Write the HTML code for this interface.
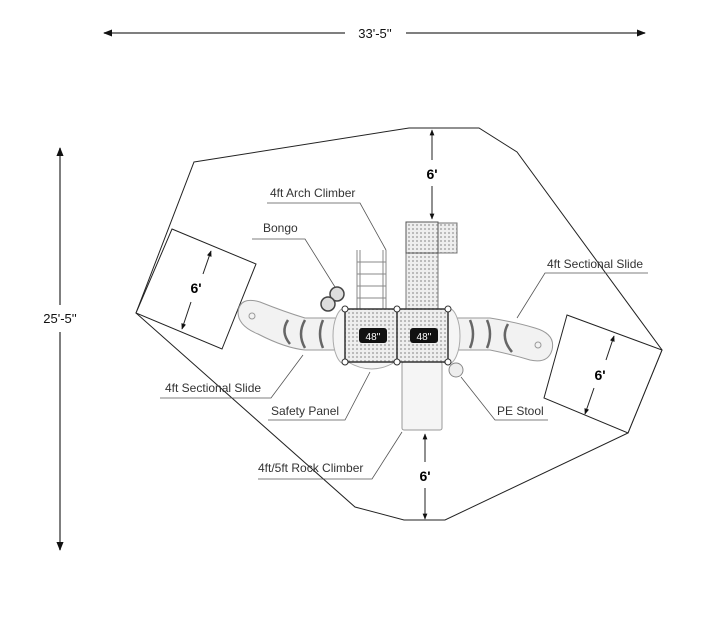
<!DOCTYPE html>
<html><head><style>
html,body{margin:0;padding:0;background:#fff;}
svg{display:block;font-family:"Liberation Sans",sans-serif;}
</style></head><body>
<svg width="723" height="641" viewBox="0 0 723 641" xmlns="http://www.w3.org/2000/svg">
<defs>
<marker id="a" viewBox="0 0 10 10" refX="9" refY="5" markerWidth="6" markerHeight="6" orient="auto-start-reverse"><path d="M0,1 L10,5 L0,9z" fill="#111"/></marker>
<pattern id="g" width="4" height="4" patternUnits="userSpaceOnUse"><rect width="4" height="4" fill="#eee"/><rect width="2" height="2" fill="#bbb"/></pattern>
</defs>
<!-- overall dims -->
<line x1="104" y1="33" x2="345" y2="33" stroke="#555" stroke-width="1.5" marker-start="url(#a)"/>
<line x1="406" y1="33" x2="645" y2="33" stroke="#555" stroke-width="1.5" marker-end="url(#a)"/>
<text x="375" y="38" font-size="13" text-anchor="middle" fill="#111">33'-5''</text>
<line x1="60" y1="148" x2="60" y2="305" stroke="#555" stroke-width="1.5" marker-start="url(#a)"/>
<line x1="60" y1="332" x2="60" y2="550" stroke="#555" stroke-width="1.5" marker-end="url(#a)"/>
<text x="60" y="323" font-size="13" text-anchor="middle" fill="#111">25'-5''</text>
<!-- safety zone -->
<polygon points="194,162 409,128 479,128 517,152 662,350 628,433 445,520 404,520 355,507 136,313" fill="none" stroke="#222" stroke-width="1"/>
<polygon points="172,229 256,264 222,349 136,313" fill="#fff" stroke="#222" stroke-width="1"/>
<polygon points="567,315 662,350 628,433 544,398" fill="#fff" stroke="#222" stroke-width="1"/>
<!-- 6' arrows -->
<line x1="432" y1="130" x2="432" y2="160" stroke="#222" marker-start="url(#a)"/>
<line x1="432" y1="186" x2="432" y2="219" stroke="#222" marker-end="url(#a)"/>
<text x="432" y="179" font-size="14" font-weight="bold" text-anchor="middle">6'</text>
<line x1="211" y1="251" x2="203" y2="274" stroke="#222" marker-start="url(#a)"/>
<line x1="191" y1="302" x2="182" y2="329" stroke="#222" marker-end="url(#a)"/>
<text x="196" y="293" font-size="14" font-weight="bold" text-anchor="middle">6'</text>
<line x1="614" y1="336" x2="606" y2="360" stroke="#222" marker-start="url(#a)"/>
<line x1="594" y1="388" x2="585" y2="414" stroke="#222" marker-end="url(#a)"/>
<text x="600" y="380" font-size="14" font-weight="bold" text-anchor="middle">6'</text>
<line x1="425" y1="434" x2="425" y2="462" stroke="#222" marker-start="url(#a)"/>
<line x1="425" y1="488" x2="425" y2="519" stroke="#222" marker-end="url(#a)"/>
<text x="425" y="481" font-size="14" font-weight="bold" text-anchor="middle">6'</text>
<!-- slides -->
<path d="M345,318 L305,318 Q285,312 260,302 Q240,296 238,312 Q238,326 258,334 Q285,348 305,350 L345,350 Z" fill="#f2f2f2" stroke="#999"/>
<path d="M448,318 L490,318 Q515,322 535,328 Q556,334 552,350 Q548,364 530,360 Q510,354 490,350 L448,350 Z" fill="#f2f2f2" stroke="#999"/>
<g fill="none" stroke="#666" stroke-width="2.5">
<path d="M288,320 Q280,332 290,344"/><path d="M305,320 Q297,334 305,348"/><path d="M323,320 Q317,334 323,348"/>
<path d="M470,320 Q476,334 470,348"/><path d="M487,320 Q493,334 487,348"/><path d="M508,324 Q500,338 512,352"/>
</g>
<circle cx="252" cy="316" r="3" fill="none" stroke="#999"/><circle cx="538" cy="345" r="3" fill="none" stroke="#999"/>
<!-- safety panel ovals -->
<ellipse cx="345" cy="336" rx="12" ry="28" fill="#f5f5f5" stroke="#aaa"/>
<ellipse cx="448" cy="336" rx="12" ry="28" fill="#f5f5f5" stroke="#aaa"/>
<path d="M348,362 Q372,376 395,362" fill="#f5f5f5" stroke="#aaa"/>
<!-- tower -->
<rect x="406" y="222" width="32" height="88" fill="url(#g)" stroke="#777"/>
<rect x="438" y="223" width="19" height="30" fill="url(#g)" stroke="#777"/>
<rect x="406" y="222" width="32" height="31" fill="url(#g)" stroke="#555"/>
<rect x="402" y="362" width="40" height="68" rx="2" fill="#f5f5f5" stroke="#999"/>
<!-- ladder -->
<g stroke="#888" fill="none">
<line x1="357" y1="250" x2="357" y2="309"/><line x1="360" y1="250" x2="360" y2="309"/>
<line x1="383" y1="250" x2="383" y2="309"/><line x1="386" y1="250" x2="386" y2="309"/>
<line x1="357" y1="262" x2="386" y2="262"/><line x1="357" y1="274" x2="386" y2="274"/>
<line x1="357" y1="286" x2="386" y2="286"/><line x1="357" y1="298" x2="386" y2="298"/>
</g>
<!-- bongos -->
<circle cx="337" cy="294" r="7" fill="#ddd" stroke="#444" stroke-width="1.5"/>
<circle cx="328" cy="304" r="7" fill="#ddd" stroke="#444" stroke-width="1.5"/>
<!-- decks -->
<rect x="345" y="309" width="103" height="53" fill="url(#g)" stroke="#333" stroke-width="1.5"/>
<line x1="397" y1="309" x2="397" y2="362" stroke="#333" stroke-width="1.5"/>
<g fill="#fff" stroke="#333"><circle cx="345" cy="309" r="3"/><circle cx="397" cy="309" r="3"/><circle cx="448" cy="309" r="3"/><circle cx="345" cy="362" r="3"/><circle cx="397" cy="362" r="3"/><circle cx="448" cy="362" r="3"/></g>
<rect x="359" y="328" width="28" height="15" rx="3" fill="#111"/>
<rect x="410" y="328" width="28" height="15" rx="3" fill="#111"/>
<text x="373" y="340" font-size="10" fill="#fff" text-anchor="middle">48''</text>
<text x="424" y="340" font-size="10" fill="#fff" text-anchor="middle">48''</text>
<circle cx="456" cy="370" r="7" fill="#eee" stroke="#888"/>
<!-- labels -->
<g font-size="12" fill="#333">
<text x="270" y="197">4ft Arch Climber</text>
<text x="263" y="232">Bongo</text>
<text x="165" y="392">4ft Sectional Slide</text>
<text x="271" y="415">Safety Panel</text>
<text x="258" y="472">4ft/5ft Rock Climber</text>
<text x="547" y="268">4ft Sectional Slide</text>
<text x="497" y="415">PE Stool</text>
</g>
<g fill="none" stroke="#555" stroke-width="0.8">
<polyline points="267,203 360,203 386,250"/>
<polyline points="252,239 305,239 335,287"/>
<polyline points="160,398 271,398 303,355"/>
<polyline points="268,420 345,420 370,372"/>
<polyline points="258,479 372,479 402,432"/>
<polyline points="648,273 545,273 517,318"/>
<polyline points="548,420 495,420 461,377"/>
</g>
</svg>
</body></html>
